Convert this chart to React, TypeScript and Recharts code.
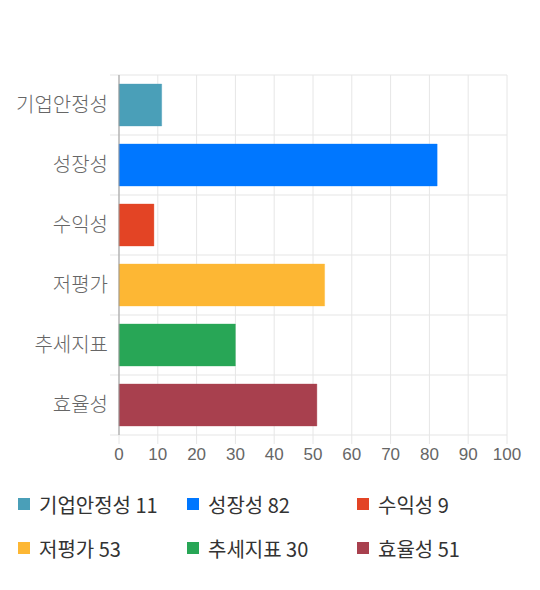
import { BarChart, Bar, Cell, XAxis, YAxis, CartesianGrid } from 'recharts'

const CATEGORIES = ['기업안정성', '성장성', '수익성', '저평가', '추세지표', '효율성']
const SCORES = [11, 82, 9, 53, 30, 51]
const COLORS = ['#4a9fb8', '#0077ff', '#e34425', '#fdb734', '#28a656', '#a8404e']
const X_TICKS = [0, 10, 20, 30, 40, 50, 60, 70, 80, 90, 100]

const data = CATEGORIES.map((name, i) => ({ name, value: SCORES[i] }))

const KR_FONT = '"Noto Sans CJK KR", "Noto Sans", sans-serif'

// grid lines sit on the category band edges, not on the band centres
function bandEdges({ offset }: any) {
  const step = offset.height / CATEGORIES.length
  return Array.from({ length: CATEGORIES.length + 1 }, (_, i) => offset.top + i * step)
}

function HLine(props: any) {
  const { x1, x2, y1, y2 } = props
  return <line x1={x1 - 9} x2={x2} y1={y1} y2={y2} stroke="#eeeeee" strokeWidth={1.5} />
}

function VLine(props: any) {
  const { x1, x2, y1, y2 } = props
  return <line x1={x1} x2={x2} y1={y1} y2={y2} stroke="#e6e6e6" strokeWidth={1} />
}

export default function App() {
  return (
    <div style={{ position: 'absolute', left: 0, top: 0, width: 540, height: 590, background: '#fff' }}>
      <BarChart
        width={540}
        height={480}
        data={data}
        layout="vertical"
        margin={{ top: 75, right: 33, left: 0, bottom: 15 }}
      >
        <CartesianGrid horizontal={HLine} vertical={VLine} horizontalCoordinatesGenerator={bandEdges} />
        <XAxis
          type="number"
          dataKey="value"
          domain={[0, 100]}
          ticks={X_TICKS}
          interval={0}
          height={30}
          axisLine={false}
          tickLine={{ stroke: '#e6e6e6' }}
          tickSize={9}
          tickMargin={4}
          tick={{ fill: '#666', fontSize: 17, fontFamily: '"Liberation Sans", Arial, sans-serif' }}
        />
        <YAxis
          type="category"
          dataKey="name"
          width={119}
          axisLine={{ stroke: '#999' }}
          tickLine={false}
          tickSize={9}
          tickMargin={2}
          tick={{ fill: '#666', fontSize: 20, fontWeight: 300, fontFamily: KR_FONT }}
        />
        <Bar dataKey="value" barSize={42} isAnimationActive={false}>
          {data.map((_, i) => (
            <Cell key={i} fill={COLORS[i]} stroke={COLORS[i]} strokeOpacity={0.35} strokeWidth={1} />
          ))}
        </Bar>
      </BarChart>
      <div
        style={{
          position: 'absolute',
          left: 18,
          top: 482,
          display: 'grid',
          gridTemplateColumns: '169px 170px 170px',
          gridAutoRows: '44px',
          fontFamily: KR_FONT,
          fontSize: 20,
          color: '#333',
        }}
      >
        {CATEGORIES.map((name, i) => (
          <div key={name} style={{ display: 'flex', alignItems: 'center' }}>
            <span style={{ width: 12, height: 12, background: COLORS[i], marginRight: 9, flex: 'none' }} />
            <span>
              {name} {SCORES[i]}
            </span>
          </div>
        ))}
      </div>
    </div>
  )
}
